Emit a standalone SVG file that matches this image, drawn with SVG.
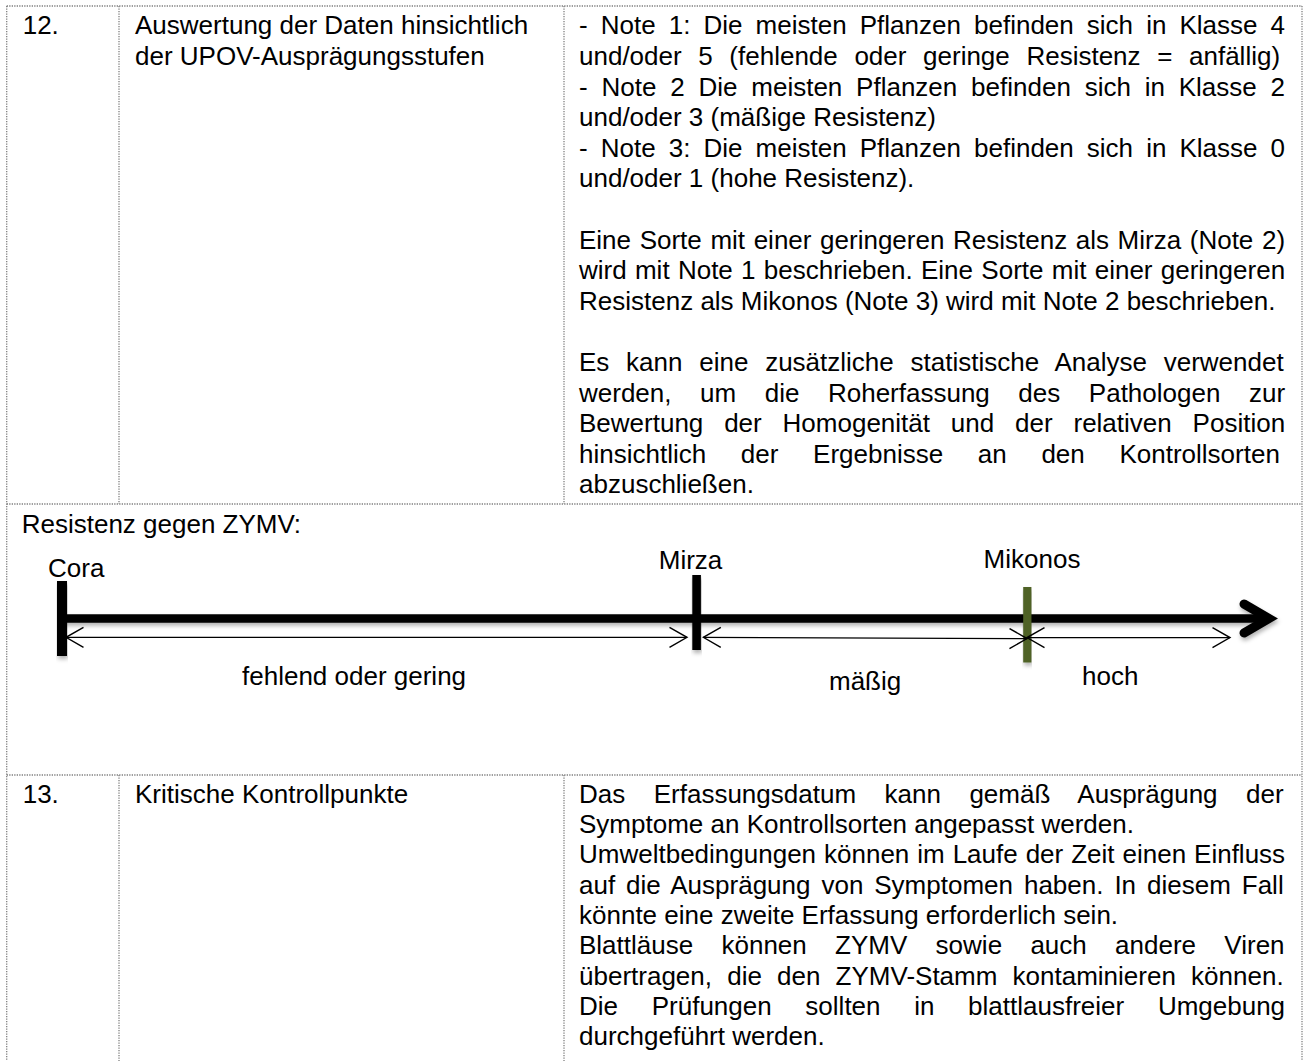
<svg xmlns="http://www.w3.org/2000/svg" width="1303" height="1061" viewBox="0 0 1303 1061">
<style>
.t{font-family:"Liberation Sans",Arial,sans-serif;font-size:26px;fill:#000}
.grid{stroke:#7f7f7f;stroke-width:1.3;stroke-dasharray:1.3 1.2;fill:none}
.thin{stroke:#000;stroke-width:1.3;fill:none;marker-start:url(#chev);marker-end:url(#chev)}
</style>
<defs>
<marker id="chev" viewBox="0 0 20 22" refX="18.5" refY="11" markerWidth="20" markerHeight="22" markerUnits="userSpaceOnUse" orient="auto-start-reverse">
<path d="M1,1 L18.5,11 L1,21" fill="none" stroke="#000" stroke-width="1.4"/>
</marker>
<filter id="sh" x="-5%" y="-50%" width="110%" height="200%">
<feDropShadow dx="1" dy="3" stdDeviation="2" flood-color="#000" flood-opacity="0.3"/>
</filter>
</defs>
<rect width="1303" height="1061" fill="#fff"/>

<g id="table-grid" class="grid">
<line x1="6.7" y1="6" x2="1302" y2="6"/>
<line x1="6.7" y1="6" x2="6.7" y2="1061"/>
<line x1="1302" y1="6" x2="1302" y2="1061"/>
<line x1="119" y1="6" x2="119" y2="504"/>
<line x1="564" y1="6" x2="564" y2="504"/>
<line x1="6.7" y1="504" x2="1302" y2="504"/>
<line x1="6.7" y1="775" x2="1302" y2="775"/>
<line x1="119" y1="775" x2="119" y2="1061"/>
<line x1="564" y1="775" x2="564" y2="1061"/>
</g>

<g id="row-12" class="t">
<text x="22.7" y="34.3">12.</text>
<text x="135" y="34.3">Auswertung der Daten hinsichtlich</text>
<text x="135" y="64.9">der UPOV-Ausprägungsstufen</text>
<text x="579" y="34.3" word-spacing="5.86">- Note 1: Die meisten Pflanzen befinden sich in Klasse 4</text>
<text x="579" y="64.9" word-spacing="9.4">und/oder 5 (fehlende oder geringe Resistenz = anfällig)</text>
<text x="579" y="95.5" word-spacing="6.58">- Note 2 Die meisten Pflanzen befinden sich in Klasse 2</text>
<text x="579" y="126.1">und/oder 3 (mäßige Resistenz)</text>
<text x="579" y="156.7" word-spacing="5.86">- Note 3: Die meisten Pflanzen befinden sich in Klasse 0</text>
<text x="579" y="187.3">und/oder 1 (hohe Resistenz).</text>
<text x="579" y="248.5" word-spacing="1.38">Eine Sorte mit einer geringeren Resistenz als Mirza (Note 2)</text>
<text x="579" y="279.1" word-spacing="1.06">wird mit Note 1 beschrieben. Eine Sorte mit einer geringeren</text>
<text x="579" y="309.7">Resistenz als Mikonos (Note 3) wird mit Note 2 beschrieben.</text>
<text x="579" y="370.9" word-spacing="9.53">Es kann eine zusätzliche statistische Analyse verwendet</text>
<text x="579" y="401.5" word-spacing="21.32">werden, um die Roherfassung des Pathologen zur</text>
<text x="579" y="432.1" word-spacing="13.62">Bewertung der Homogenität und der relativen Position</text>
<text x="579" y="462.7" word-spacing="27.44">hinsichtlich der Ergebnisse an den Kontrollsorten</text>
<text x="579" y="493.3">abzuschließen.</text>
</g>

<g id="resistance-scale">
<text class="t" x="21.7" y="532.5">Resistenz gegen ZYMV:</text>
<g id="axis" filter="url(#sh)">
<line x1="62" y1="618.5" x2="1266" y2="618.5" stroke="#000" stroke-width="8.5"/>
<path d="M1244,604 L1269,618.5 L1244,633" fill="none" stroke="#000" stroke-width="9" stroke-linecap="round" stroke-linejoin="miter"/>
</g>
<g id="node-cora">
<rect x="57" y="581" width="10" height="75" fill="#000" filter="url(#sh)"/>
<text class="t" x="48" y="577">Cora</text>
</g>
<g id="node-mirza">
<rect x="692.3" y="575" width="8.6" height="75" fill="#000" filter="url(#sh)"/>
<text class="t" x="690.5" y="569" text-anchor="middle">Mirza</text>
</g>
<g id="node-mikonos">
<rect x="1023.2" y="587" width="8.2" height="75.5" fill="#4f6228" filter="url(#sh)"/>
<text class="t" x="1032" y="568.3" text-anchor="middle">Mikonos</text>
</g>
</g>

<g id="connectors">
<line class="thin" x1="66" y1="637.3" x2="687" y2="637.3"/>
<line class="thin" x1="703.3" y1="637.3" x2="1027" y2="638.6"/>
<line class="thin" x1="1027" y1="637.6" x2="1230" y2="637.6"/>
<text class="t" x="242" y="685">fehlend oder gering</text>
<text class="t" x="829" y="690">mäßig</text>
<text class="t" x="1082" y="685">hoch</text>
</g>

<g id="row-13" class="t">
<text x="22.7" y="802.7">13.</text>
<text x="135" y="802.7">Kritische Kontrollpunkte</text>
<text x="579" y="802.7" word-spacing="21.26">Das Erfassungsdatum kann gemäß Ausprägung der</text>
<text x="579" y="833">Symptome an Kontrollsorten angepasst werden.</text>
<text x="579" y="863.3" word-spacing="0.73">Umweltbedingungen können im Laufe der Zeit einen Einfluss</text>
<text x="579" y="893.6" word-spacing="3.71">auf die Ausprägung von Symptomen haben. In diesem Fall</text>
<text x="579" y="923.9">könnte eine zweite Erfassung erforderlich sein.</text>
<text x="579" y="954.2" word-spacing="21.08">Blattläuse können ZYMV sowie auch andere Viren</text>
<text x="579" y="984.5" word-spacing="7.96">übertragen, die den ZYMV-Stamm kontaminieren können.</text>
<text x="579" y="1014.8" word-spacing="26.46">Die Prüfungen sollten in blattlausfreier Umgebung</text>
<text x="579" y="1045.1">durchgeführt werden.</text>
</g>
</svg>
